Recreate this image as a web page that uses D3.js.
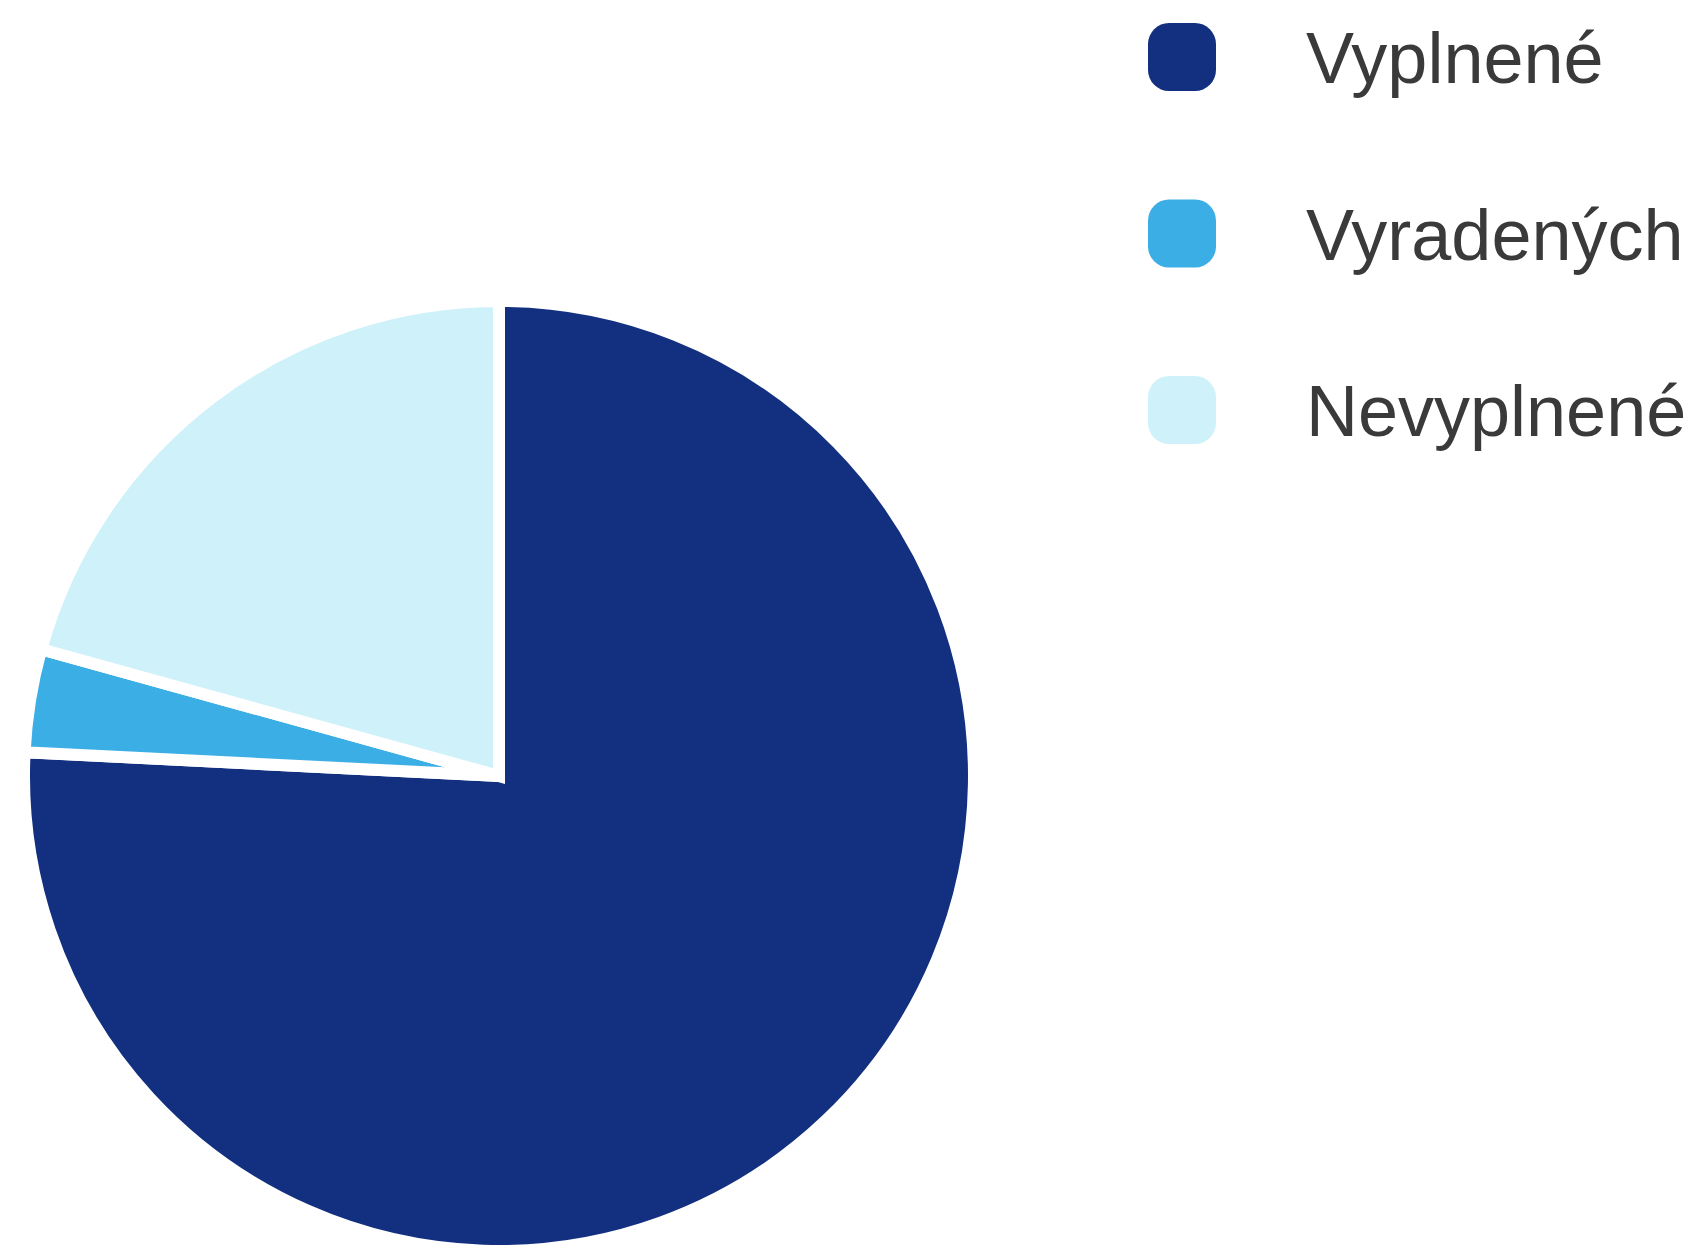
<!DOCTYPE html>
<meta charset="utf-8">
<style>

body {
  margin: 0;
  background-color: white;
  overflow: hidden;
}

.legend text {
  font-family: "Liberation Sans", Arial, Helvetica, sans-serif;
  font-size: 72px;
  fill: #3a3a3a;
}

</style>
<body>

<script src="https://cdn.jsdelivr.net/npm/d3@7"></script>
<script>

var labels = ["Vyplnené", "Vyradených", "Nevyplnené"];
var values = [75.8, 3.5, 20.7];

var palette = ["#12307f", "#3baee6", "#cff2fa"];

var width = 1706,
    height = 1246;

var color = d3.scaleOrdinal()
    .domain(labels)
    .range(palette);

var svg = d3.select("body").append("svg")
    .attr("width", width)
    .attr("height", height);

// pie, clockwise from 12 o'clock, no sorting
var pie = d3.pie()
    .sort(null)
    .value(function(d) { return d.value; });

var arc = d3.arc()
    .innerRadius(0)
    .outerRadius(475);

var data = labels.map(function(l, i) { return {label: l, value: values[i]}; });

svg.append("g")
    .attr("transform", "translate(499,776)")
  .selectAll("path")
    .data(pie(data))
  .enter().append("path")
    .attr("d", arc)
    .attr("fill", function(d) { return color(d.data.label); })
    .attr("stroke", "white")
    .attr("stroke-width", 12)
    .attr("stroke-linejoin", "miter");

// legend on the right
var y = d3.scalePoint()
    .domain(labels)
    .range([57, 410]);

var item = svg.append("g")
    .attr("class", "legend")
  .selectAll("g")
    .data(labels)
  .enter().append("g")
    .attr("transform", function(d) { return "translate(1148," + y(d) + ")"; });

item.append("rect")
    .attr("x", 0)
    .attr("y", -34)
    .attr("width", 68)
    .attr("height", 68)
    .attr("rx", 21)
    .attr("fill", function(d) { return color(d); });

item.append("text")
    .attr("x", 158)
    .attr("y", 26)
    .text(function(d) { return d; });

</script>
